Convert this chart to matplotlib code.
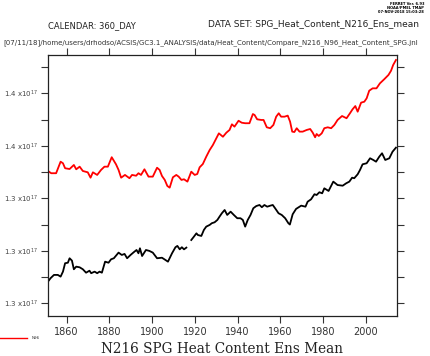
import numpy as np
import matplotlib
matplotlib.use("Agg")
import matplotlib.pyplot as plt
from matplotlib.ticker import FixedLocator, FuncFormatter

# Heat content, units of 1e17
red_years = [1851.3, 1852.8, 1855.1, 1857.2, 1858.3, 1859.3, 1861.4, 1863.4, 1864.5, 1866.1,
             1867.6, 1869.9, 1871.2, 1872.3, 1874.3, 1876.1, 1877.7, 1879.3, 1881.1, 1883.1,
             1884.3, 1885.5, 1887.3, 1889.4, 1890.6, 1892.5, 1893.6, 1894.8, 1896.4, 1898.3,
             1900.3, 1902.3, 1903.5, 1904.6, 1905.9, 1907.1, 1908.2, 1909.7, 1911.3, 1912.4,
             1913.7, 1914.9, 1916.5, 1918.3, 1919.9, 1921.1, 1922.2, 1923.7, 1925.3, 1926.9,
             1928.4, 1930.0, 1931.2, 1933.1, 1934.7, 1936.2, 1937.3, 1938.5, 1940.4, 1941.9,
             1943.5, 1945.5, 1947.1, 1947.9, 1949.1, 1951.0, 1952.1, 1953.6, 1955.2, 1956.7,
             1958.0, 1959.2, 1960.3, 1961.9, 1963.4, 1964.5, 1965.5, 1966.5, 1967.6, 1968.9,
             1970.4, 1972.3, 1973.9, 1975.1, 1976.2, 1976.9, 1977.9, 1979.3, 1980.5, 1982.1,
             1983.7, 1985.2, 1986.7, 1988.8, 1990.9, 1992.5, 1993.7, 1995.0, 1996.1, 1997.7,
             1999.2, 2000.3, 2001.5, 2003.1, 2004.9, 2006.5, 2008.5, 2010.5, 2011.7, 2012.7,
             2014.0]
red_vals = [1.3608, 1.3591, 1.3591, 1.3679, 1.3667, 1.3629, 1.3623, 1.3654, 1.3621, 1.3641,
            1.3608, 1.3598, 1.3557, 1.3598, 1.3578, 1.3616, 1.3641, 1.3641, 1.3713, 1.3659,
            1.3616, 1.3557, 1.3578, 1.3553, 1.3578, 1.3572, 1.3591, 1.3578, 1.3621, 1.3565,
            1.3565, 1.3633, 1.3616, 1.3570, 1.3540, 1.3494, 1.3481, 1.3560, 1.3578, 1.3565,
            1.3540, 1.3545, 1.3527, 1.3603, 1.3578, 1.3585, 1.3636, 1.3661, 1.3717, 1.3768,
            1.3806, 1.3857, 1.3895, 1.3869, 1.3900, 1.3921, 1.3964, 1.3946, 1.3991, 1.3976,
            1.3972, 1.3972, 1.4042, 1.4035, 1.4002, 1.3997, 1.3997, 1.3941, 1.3934, 1.3959,
            1.4022, 1.4048, 1.4022, 1.4022, 1.4030, 1.3984, 1.3908, 1.3905, 1.3934, 1.3908,
            1.3908, 1.3921, 1.3928, 1.3900, 1.3865, 1.3890, 1.3875, 1.3895, 1.3934, 1.3941,
            1.3934, 1.3959, 1.3997, 1.4027, 1.4010, 1.4048, 1.4078, 1.4103, 1.4060, 1.4129,
            1.4136, 1.4162, 1.4220, 1.4238, 1.4238, 1.4276, 1.4307, 1.4340, 1.4372, 1.4416,
            1.4454]

black_years = [1851.3, 1852.5, 1854.1, 1855.9, 1857.2, 1858.3, 1859.3, 1860.6, 1861.4, 1862.5,
               1863.4, 1864.5, 1866.1, 1867.6, 1869.1, 1870.7, 1871.5, 1873.1, 1874.3, 1875.4,
               1876.5, 1878.0, 1879.6, 1880.8, 1882.1, 1884.3, 1885.8, 1887.1, 1888.3, 1889.9,
               1891.4, 1892.7, 1893.6, 1894.3, 1895.3, 1897.1, 1898.7, 1900.3, 1902.3, 1904.6,
               1906.2, 1907.4, 1909.3, 1910.9, 1911.8, 1912.9, 1913.9, 1914.9, 1916.0, 1917.0,
               1918.3, 1919.5, 1920.7, 1921.4, 1923.0, 1924.2, 1925.3, 1926.9, 1927.9, 1929.2,
               1930.5, 1931.5, 1932.6, 1933.9, 1935.1, 1936.7, 1938.2, 1939.8, 1941.3, 1942.4,
               1943.5, 1944.7, 1946.0, 1947.3, 1948.7, 1950.2, 1951.3, 1952.5, 1953.8, 1955.3,
               1956.4, 1957.5, 1959.1, 1960.6, 1962.2, 1963.7, 1964.4, 1965.7, 1967.3, 1969.7,
               1971.7, 1972.7, 1974.3, 1975.9, 1976.9, 1978.2, 1979.5, 1980.5, 1982.5, 1984.7,
               1986.7, 1989.1, 1990.7, 1992.2, 1993.5, 1994.5, 1996.1, 1997.2, 1998.4, 2000.3,
               2001.9, 2003.4, 2004.7, 2006.2, 2007.5, 2009.0, 2010.9, 2012.4, 2014.0]
black_vals = [1.2765, 1.2791, 1.2816, 1.2816, 1.2803, 1.2841, 1.2905, 1.2909, 1.2943, 1.2925,
              1.2859, 1.2879, 1.2874, 1.2859, 1.2833, 1.2848, 1.2829, 1.2841, 1.2829, 1.2841,
              1.2833, 1.2917, 1.2909, 1.2935, 1.2943, 1.2986, 1.2968, 1.2976, 1.2943, 1.2968,
              1.2989, 1.3006, 1.2981, 1.3019, 1.2960, 1.3006, 1.2999, 1.2986, 1.2943, 1.2947,
              1.2930, 1.2917, 1.2981, 1.3027, 1.3037, 1.3011, 1.3027, 1.3011, 1.3024, np.nan,
              1.3082, 1.3107, 1.3133, 1.3120, 1.3113, 1.3159, 1.3184, 1.3197, 1.3210, 1.3217,
              1.3235, 1.3260, 1.3286, 1.3311, 1.3273, 1.3298, 1.3273, 1.3248, 1.3248, 1.3235,
              1.3184, 1.3235, 1.3273, 1.3324, 1.3341, 1.3349, 1.3332, 1.3349, 1.3336, 1.3344,
              1.3349, 1.3324, 1.3286, 1.3273, 1.3248, 1.3210, 1.3200, 1.3278, 1.3319, 1.3344,
              1.3336, 1.3374, 1.3392, 1.3431, 1.3425, 1.3446, 1.3438, 1.3476, 1.3456, 1.3527,
              1.3501, 1.3496, 1.3514, 1.3527, 1.3557, 1.3553, 1.3583, 1.3616, 1.3659, 1.3667,
              1.3705, 1.3692, 1.3679, 1.3717, 1.3743, 1.3692, 1.3705, 1.3755, 1.3786]

x_ticks = [1860, 1880, 1900, 1920, 1940, 1960, 1980, 2000]
y_major = [1.26, 1.30, 1.34, 1.38, 1.42]
y_minor = [1.28, 1.32, 1.36, 1.40, 1.44]

fig = plt.figure(figsize=(4.3, 3.56), dpi=100)
ax = fig.add_axes([0.1116, 0.1124, 0.8117, 0.7331])

ax.plot(red_years, red_vals, color="#ff0000", lw=1.3)
ax.plot(black_years, black_vals, color="black", lw=1.3)

ax.set_xlim(1851.3, 2014.5)
ax.set_ylim(1.2503, 1.4492)

ax.xaxis.set_major_locator(FixedLocator(x_ticks))
ax.yaxis.set_major_locator(FixedLocator(y_major))
ax.yaxis.set_minor_locator(FixedLocator(y_minor))
ax.yaxis.set_major_formatter(FuncFormatter(lambda v, p: f"{v:.1f} x10$^{{17}}$"))

ax.tick_params(axis="both", which="both", direction="out", length=5, width=0.8,
               top=True, right=True, color="#333333")
ax.tick_params(axis="x", labelsize=7, labelcolor="#333333", pad=3)
ax.tick_params(axis="y", labelsize=5, labelcolor="#444444", pad=2)
for s in ax.spines.values():
    s.set_linewidth(0.9)
    s.set_color("#222222")

# header texts
fig.text(48 / 430, 1 - 26 / 356, "CALENDAR: 360_DAY", fontsize=6, color="#222222",
         va="center", ha="left")
fig.text(208 / 430, 1 - 24 / 356, "DATA SET: SPG_Heat_Content_N216_Ens_mean", fontsize=6.5,
         color="#222222", va="center", ha="left")
fig.text(3 / 430, 1 - 43 / 356,
         "[07/11/18]/home/users/drhodso/ACSIS/GC3.1_ANALYSIS/data/Heat_Content/Compare_N216_N96_Heat_Content_SPG.jnl",
         fontsize=5.05, color="#333333", va="center", ha="left")
fig.text(424 / 430, 1 - 2 / 356, "FERRET Ver. 6.93\nNOAA/PMEL TMAP\n07-NOV-2018 15:03:28",
         fontsize=2.6, color="black", va="top", ha="right", linespacing=1.0,
         fontweight="bold")

# legend line
fig.add_artist(plt.Line2D([0, 27 / 430], [1 - 338 / 356, 1 - 338 / 356],
                          color="#ff0000", lw=1.0, transform=fig.transFigure))
fig.text(32 / 430, 1 - 338 / 356, "N96", fontsize=3, color="#333333", va="center", ha="left")

# title at bottom
fig.text(222 / 430, 1 - 349 / 356, "N216 SPG Heat Content Ens Mean", fontsize=9.8,
         family="DejaVu Serif", color="#222222", va="center", ha="center")

fig.savefig("out.png", dpi=100)
